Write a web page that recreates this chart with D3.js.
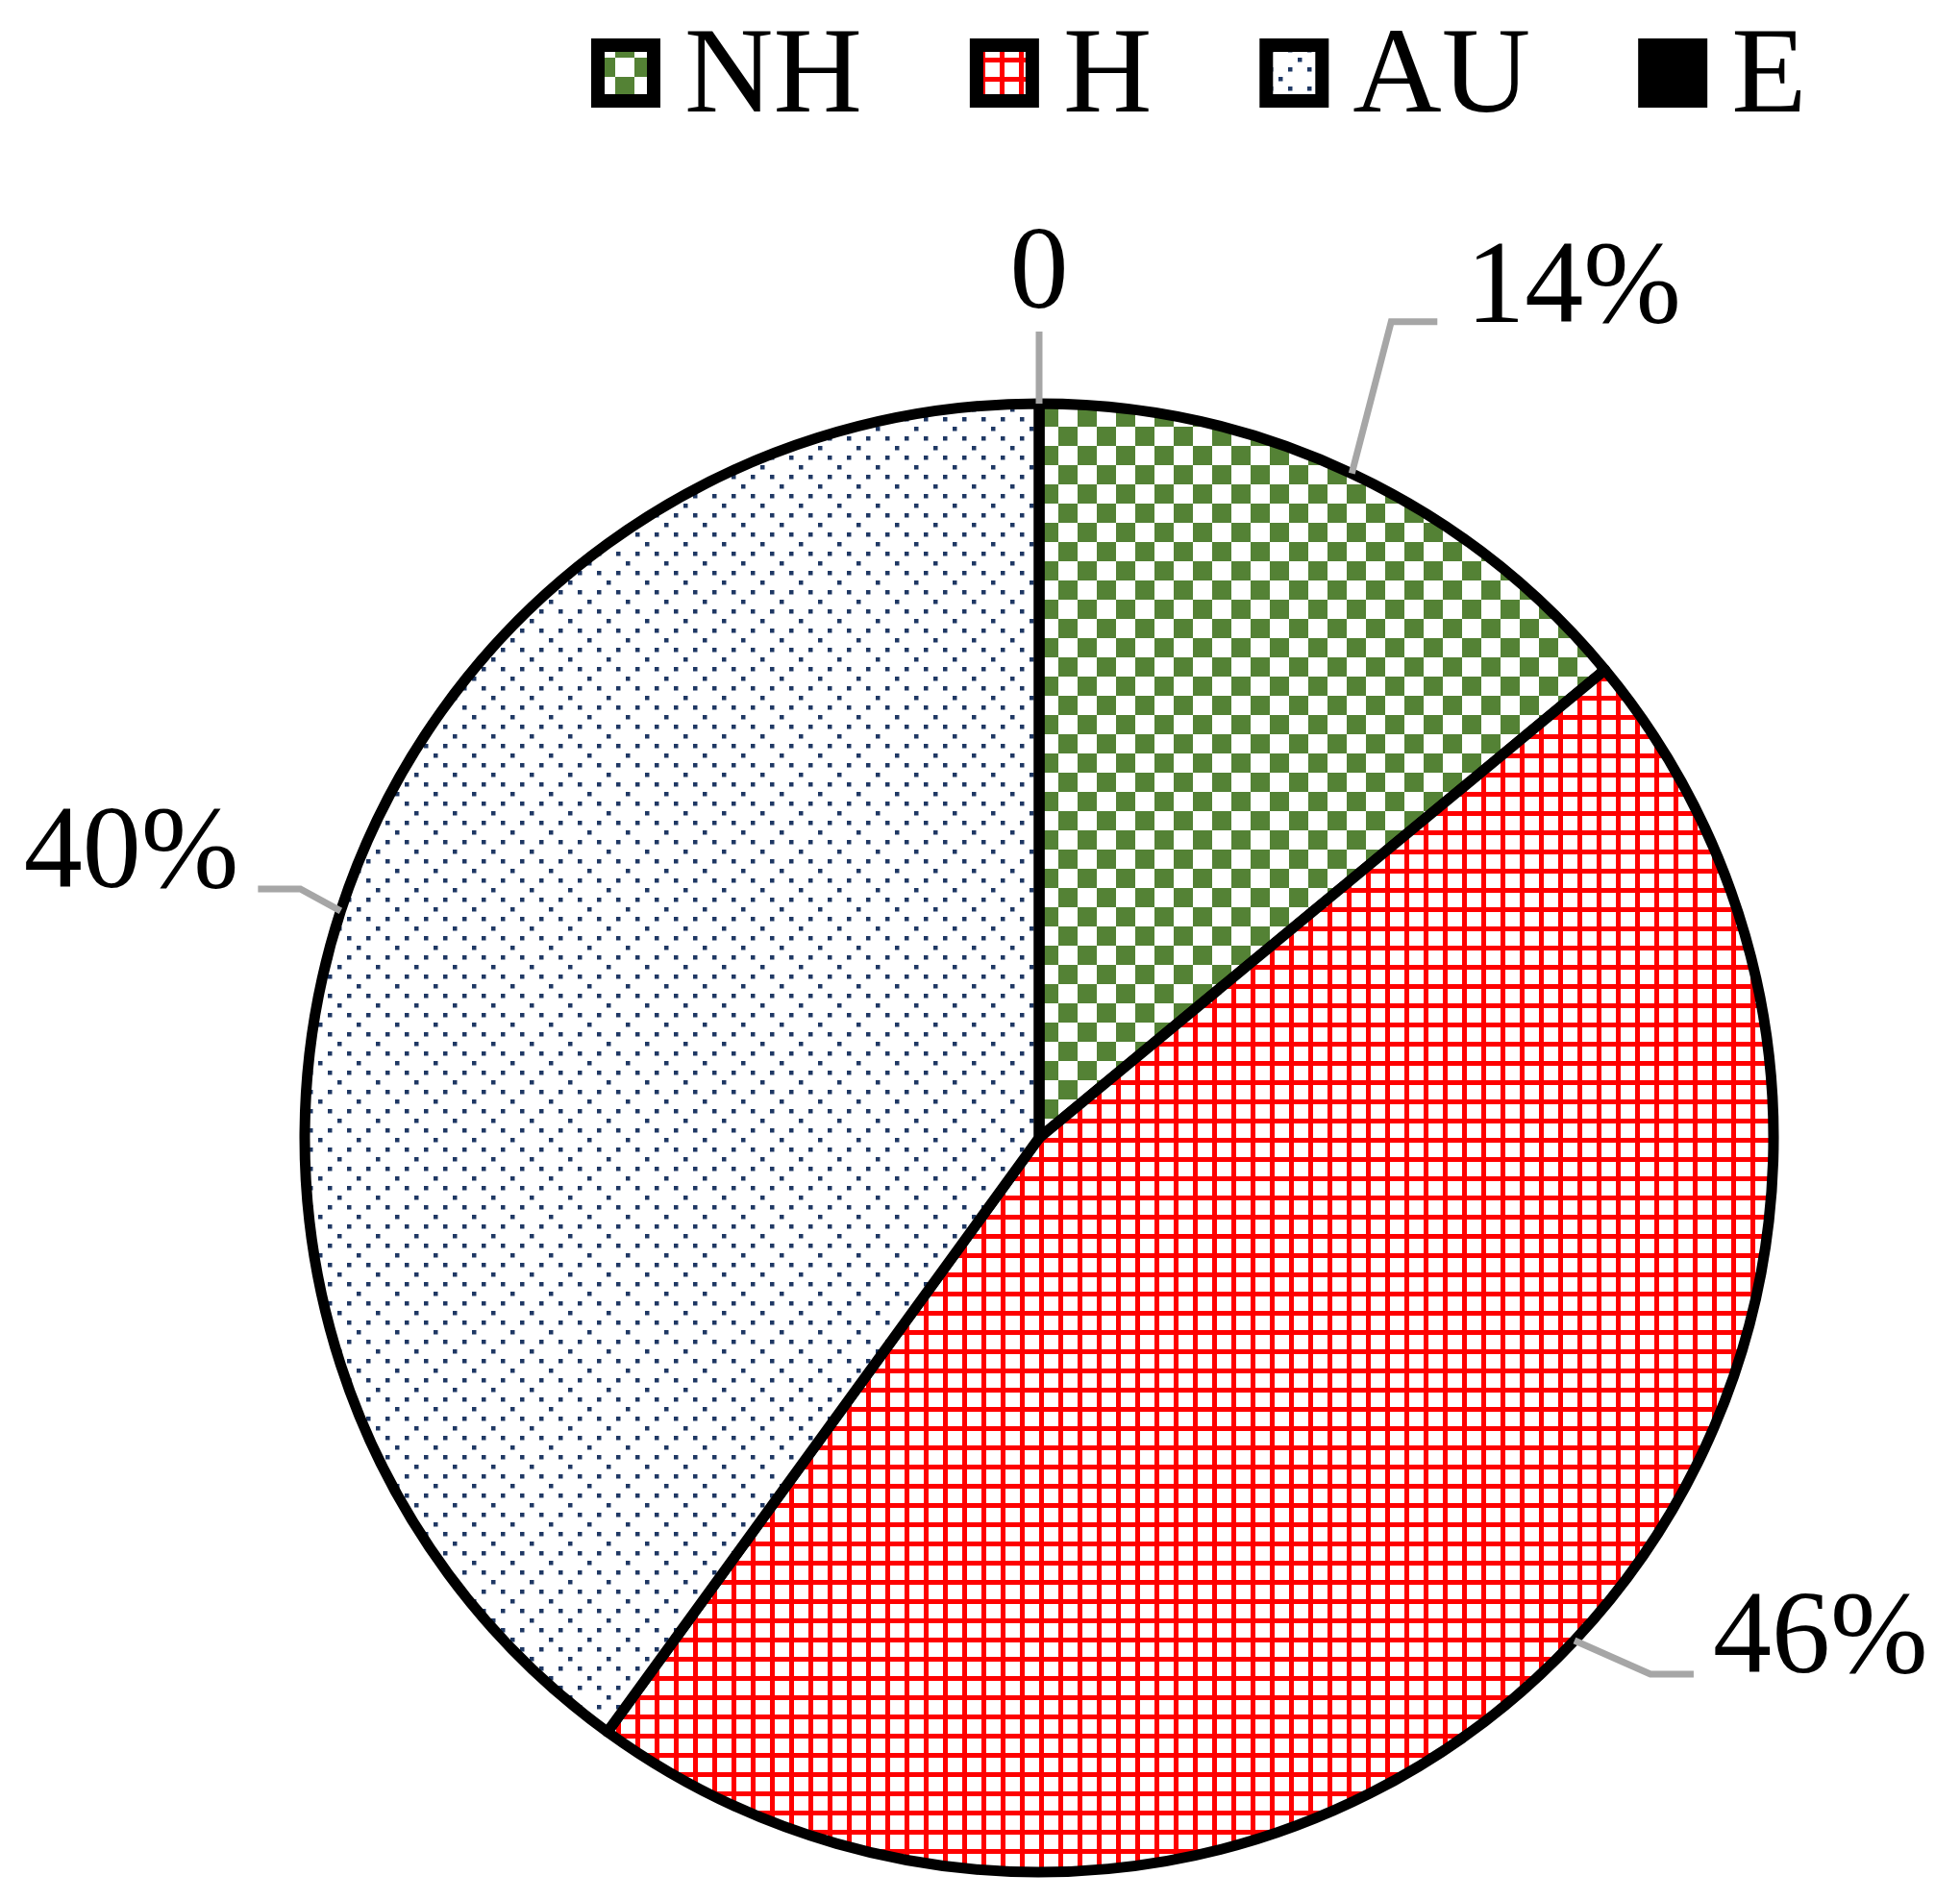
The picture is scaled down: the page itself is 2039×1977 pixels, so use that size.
<!DOCTYPE html>
<html>
<head>
<meta charset="utf-8">
<script src="https://d3js.org/d3.v7.min.js"></script>
<style>
  body { margin: 0; background: #fff; }
  text { font-family: "Liberation Serif", "Times New Roman", serif; }
</style>
</head>
<body>
<div id="chart"></div>
<script>
// data
var categories = ["NH", "H", "AU", "E"];
var values = [14, 46, 40, 0];
var valueLabels = ["14%", "46%", "40%", "0"];

var width = 2039, height = 1977;
var cx = 1081, cy = 1184, radius = 764;

var svg = d3.select("#chart").append("svg")
    .attr("width", width)
    .attr("height", height);

// fill patterns
var defs = svg.append("defs");

var pNH = defs.append("pattern").attr("id", "pat-NH")
    .attr("patternUnits", "userSpaceOnUse").attr("width", 40).attr("height", 40);
pNH.append("rect").attr("width", 40).attr("height", 40).attr("fill", "#fff");
pNH.append("rect").attr("x", 0).attr("y", 0).attr("width", 20).attr("height", 20).attr("fill", "#548235");
pNH.append("rect").attr("x", 20).attr("y", 20).attr("width", 20).attr("height", 20).attr("fill", "#548235");

var pH = defs.append("pattern").attr("id", "pat-H")
    .attr("patternUnits", "userSpaceOnUse").attr("width", 20).attr("height", 20);
pH.append("rect").attr("width", 20).attr("height", 20).attr("fill", "#fff");
pH.append("rect").attr("x", 0).attr("y", 0).attr("width", 5).attr("height", 20).attr("fill", "#ff0000");
pH.append("rect").attr("x", 0).attr("y", 0).attr("width", 20).attr("height", 5).attr("fill", "#ff0000");

var pAU = defs.append("pattern").attr("id", "pat-AU")
    .attr("patternUnits", "userSpaceOnUse").attr("width", 40).attr("height", 40);
pAU.append("rect").attr("width", 40).attr("height", 40).attr("fill", "#fff");
[[10, 0], [0, 10], [20, 10], [30, 20], [0, 30], [20, 30]].forEach(function(p) {
  pAU.append("rect").attr("x", p[0]).attr("y", p[1])
    .attr("width", 4.5).attr("height", 4.5).attr("fill", "#1f3864");
});

var fills = {NH: "url(#pat-NH)", H: "url(#pat-H)", AU: "url(#pat-AU)", E: "#000"};

var data = categories.map(function(c, i) {
  return {cat: c, value: values[i], label: valueLabels[i]};
});

var pie = d3.pie().sort(null).value(function(d) { return d.value; });
var arcs = pie(data);
var arc = d3.arc().innerRadius(0).outerRadius(radius);

var g = svg.append("g").attr("transform", "translate(" + cx + "," + cy + ")");

g.selectAll("path.slice")
  .data(arcs)
  .enter().append("path")
    .attr("class", "slice")
    .attr("d", arc)
    .attr("fill", function(d) { return fills[d.data.cat]; })
    .attr("stroke", "#000")
    .attr("stroke-width", 11)
    .attr("stroke-linejoin", "round");

// leader lines + data labels (elbow offsets are layout, set by hand)
var labelLayout = {
  NH: {elbow: [41, -158], run: 48, gap: 30, anchor: "start", dy: 0},
  H:  {elbow: [79, 35], run: 45, gap: 20, anchor: "start", dy: -2},
  AU: {elbow: [-42, -23], run: -44, gap: -20, anchor: "end", dy: -2},
  E:  {elbow: [0, -75], run: 0, gap: 0, anchor: "middle", dy: -25}
};

arcs.forEach(function(d) {
  var a = (d.startAngle + d.endAngle) / 2;
  var p0 = [radius * Math.sin(a), -radius * Math.cos(a)];
  var L = labelLayout[d.data.cat];
  var p1 = [p0[0] + L.elbow[0], p0[1] + L.elbow[1]];
  var p2 = [p1[0] + L.run, p1[1]];
  g.append("path")
    .attr("d", d3.line()([p0, p1, p2]))
    .attr("fill", "none")
    .attr("stroke", "#a6a6a6")
    .attr("stroke-width", 7);
  g.append("text")
    .attr("x", p2[0] + L.gap)
    .attr("y", p2[1] + L.dy)
    .attr("text-anchor", L.anchor)
    .attr("font-size", 122)
    .attr("fill", "#000")
    .text(d.data.label);
});

// legend
var legend = svg.append("g").attr("class", "legend");
var lx = 615, sq = 72, ly = 40;
categories.forEach(function(c) {
  legend.append("rect")
    .attr("x", lx + 7).attr("y", ly + 7)
    .attr("width", sq - 14).attr("height", sq - 14)
    .attr("fill", fills[c])
    .attr("stroke", "#000")
    .attr("stroke-width", 14);
  var t = legend.append("text")
    .attr("x", lx + sq + 25)
    .attr("y", 116)
    .attr("font-size", 128)
    .attr("fill", "#000")
    .text(c);
  lx += sq + 25 + t.node().getComputedTextLength() + 112;
});
</script>
</body>
</html>
